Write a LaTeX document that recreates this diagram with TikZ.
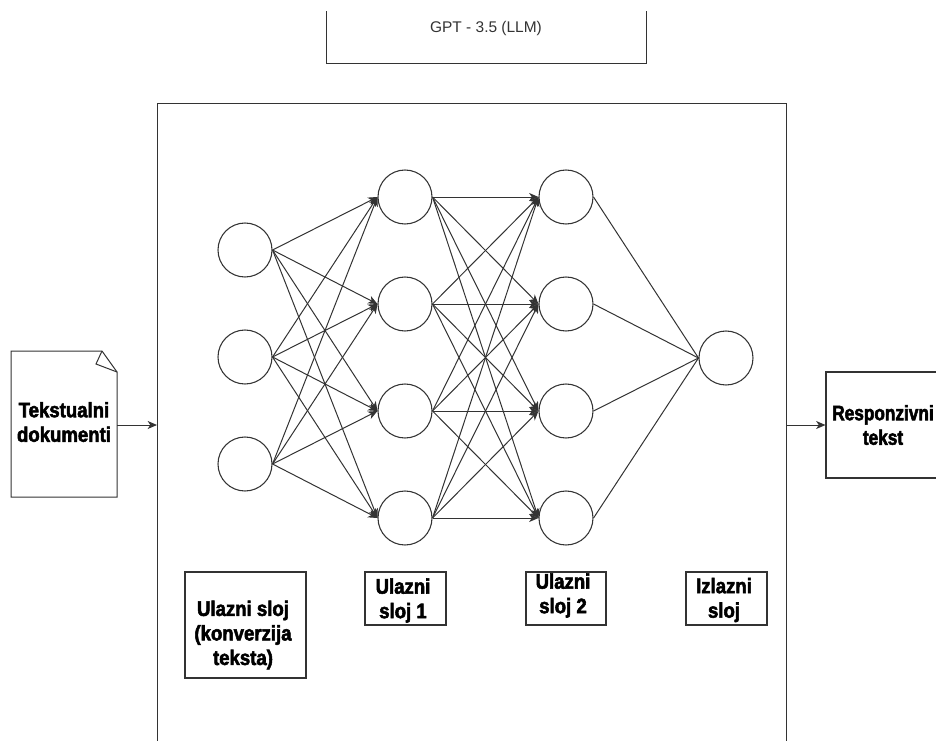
\documentclass[tikz,border=0pt]{standalone}
\usepackage{fontspec}
\setmainfont{Liberation Sans}
\newfontfamily\impactfont{Liberation Sans}[FakeStretch=0.885,FakeBold=2.5]
\newfontfamily\impactnarrow{Liberation Sans}[FakeStretch=0.82,FakeBold=2.5]
\usetikzlibrary{arrows.meta}
\definecolor{linec}{HTML}{333333}
\definecolor{gtext}{HTML}{333333}
\tikzset{
  neuron/.style={circle,draw=linec,line width=0.8pt,minimum size=40.5pt,inner sep=0pt},
  conn/.style={draw=linec,line width=0.75pt},
  arr/.style={conn,-{Stealth[length=7pt,width=6pt,inset=2pt]}},
  boldlbl/.style={font=\impactfont\bfseries\fontsize{15.75pt}{18.4pt}\selectfont,align=center,inner sep=0pt},
  lblbox/.style={draw=linec,line width=0.8pt,inner sep=0pt},
}
\begin{document}
\begin{tikzpicture}[x=0.75pt,y=-0.75pt]
\useasboundingbox (0,0) rectangle (936,740);
\path[clip] (0,0) rectangle (936,740);

% top box (GPT)
\draw[conn] (326,11) -- (326,63) -- (646,63) -- (646,11);
\node[font=\fontsize{11.6pt}{14pt}\selectfont,text=gtext] (gpt) at (486,28) {GPT - 3.5 (LLM)};

% big box
\draw[conn] (157,760) -- (157,103) -- (786,103) -- (786,760);
\coordinate (bigL) at (157,425);
\coordinate (bigR) at (786,425);

% document shape
\draw[conn,fill=white] (11,351) -- (102,351) -- (117,372) -- (117,497) -- (11,497) -- cycle;
\draw[conn] (102,351) -- (96,364) -- (117,372);
\node[boldlbl] (doc) at (64,422) {Tekstualni\\dokumenti};
\coordinate (docR) at (117,425);
\draw[arr] (docR) -- (bigL);

% response box
\node[lblbox,minimum width=91.5pt,minimum height=79.5pt] (resp) at (887,425) {};
\node[boldlbl,font=\impactnarrow\bfseries\fontsize{15.75pt}{18.4pt}\selectfont] (resptxt) at (883,425) {Responzivni\\tekst};
\draw[arr] (bigR) -- (resp.west);

% neurons
\node[neuron] (i1) at (245,250) {};
\node[neuron] (i2) at (245,357) {};
\node[neuron] (i3) at (245,464) {};
\node[neuron] (a1) at (405,197) {};
\node[neuron] (a2) at (405,304) {};
\node[neuron] (a3) at (405,411) {};
\node[neuron] (a4) at (405,518) {};
\node[neuron] (b1) at (566,197) {};
\node[neuron] (b2) at (566,304) {};
\node[neuron] (b3) at (566,411) {};
\node[neuron] (b4) at (566,518) {};
\node[neuron] (o1) at (726,358) {};

\foreach \s in {i1,i2,i3}{
  \foreach \t in {a1,a2,a3,a4}{
    \draw[arr] (\s.east) -- (\t.west);
  }
}
\foreach \s in {a1,a2,a3,a4}{
  \foreach \t in {b1,b2,b3,b4}{
    \draw[arr] (\s.east) -- (\t.west);
  }
}
\foreach \s in {b1,b2,b3,b4}{
  \draw[conn] (\s.east) -- (o1.west);
}

% layer label boxes
\node[lblbox,minimum width=90.75pt,minimum height=79.5pt] (lA) at (245.5,625) {};
\node[boldlbl] (lAt) at (243,635) {Ulazni sloj\\(konverzija\\teksta)};
\node[lblbox,minimum width=60.75pt,minimum height=39.75pt] (lB) at (405.5,598.5) {};
\node[boldlbl] (lBt) at (403,600.5) {Ulazni\\sloj 1};
\node[lblbox,minimum width=60pt,minimum height=39.75pt] (lC) at (566,598.5) {};
\node[boldlbl] (lCt) at (563,595.5) {Ulazni\\sloj 2};
\node[lblbox,minimum width=60.75pt,minimum height=39.75pt] (lD) at (726.5,598.5) {};
\node[boldlbl] (lDt) at (724,600) {Izlazni\\sloj};
\end{tikzpicture}
\end{document}
